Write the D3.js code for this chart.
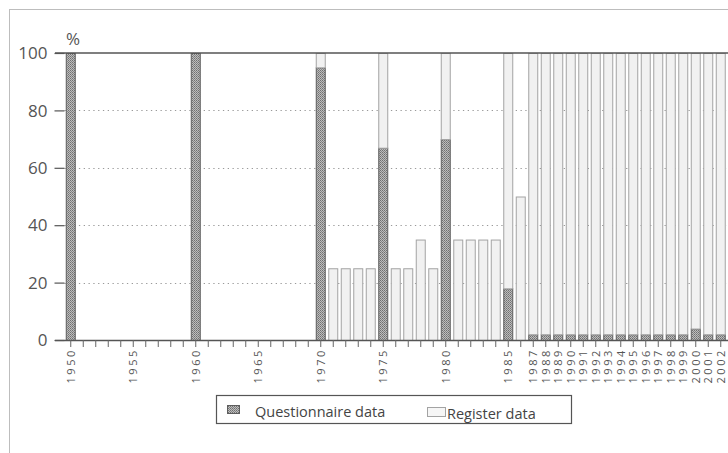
<!DOCTYPE html>
<html><head><meta charset="utf-8">
<script src="https://cdn.jsdelivr.net/npm/d3@7"></script>
<style>
html,body{margin:0;padding:0;background:#fff;}
svg{display:block;}
</style></head>
<body>
<svg id="chart" width="728" height="453"></svg>
<script>
// ---- data ----
const allYears = [1950,1951,1952,1953,1954,1955,1956,1957,1958,1959,1960,1961,1962,1963,1964,1965,1966,1967,1968,1969,1970,1971,1972,1973,1974,1975,1976,1977,1978,1979,1980,1981,1982,1983,1984,1985,1986,1987,1988,1989,1990,1991,1992,1993,1994,1995,1996,1997,1998,1999,2000,2001,2002];
const labelYears = [1950,1955,1960,1965,1970,1975,1980,1985,1987,1988,1989,1990,1991,1992,1993,1994,1995,1996,1997,1998,1999,2000,2001,2002];
const dataYears = [1950,1960,1970,1971,1972,1973,1974,1975,1976,1977,1978,1979,1980,1981,1982,1983,1984,1985,1986,1987,1988,1989,1990,1991,1992,1993,1994,1995,1996,1997,1998,1999,2000,2001,2002];
const questionnaire = [100,100,95,0,0,0,0,67,0,0,0,0,70,0,0,0,0,18,0,2,2,2,2,2,2,2,2,2,2,2,2,2,4,2,2];
const register = [0,0,5,25,25,25,25,33,25,25,35,25,30,35,35,35,35,82,50,98,98,98,98,98,98,98,98,98,98,98,98,98,96,98,98];
const yTicks = [0,20,40,60,80,100];
const seriesNames = ["Questionnaire data","Register data"];

// ---- layout ----
const svg = d3.select("#chart");
const pLeft = 64.5, pRight = 727, pTop = 53, pBottom = 340;
const x = d3.scaleBand().domain(allYears).range([pLeft, pRight]).paddingInner(0.2).paddingOuter(0.1);
const y = d3.scaleLinear().domain([0,100]).range([pBottom, pTop]);
const font = "'Open Sans', 'Noto Sans', sans-serif";
const textCol = "#555";

// pattern
const defs = svg.append("defs");
const pat = defs.append("pattern").attr("id","qpat").attr("patternUnits","userSpaceOnUse")
  .attr("width",2).attr("height",2);
pat.append("rect").attr("width",2).attr("height",2).attr("fill","#bdbdbd");
pat.append("rect").attr("width",1).attr("height",1).attr("fill","#707070");
pat.append("rect").attr("x",1).attr("y",1).attr("width",1).attr("height",1).attr("fill","#858585");

// outer frame
svg.append("rect").attr("x",9.5).attr("y",9.5).attr("width",740).attr("height",460)
  .attr("fill","none").attr("stroke","#bdbdbd").attr("stroke-width",1);

// gridlines
svg.append("g").selectAll("line").data(yTicks.filter(d => d>0 && d<100)).join("line")
  .attr("x1",pLeft).attr("x2",pRight).attr("y1",d=>Math.round(y(d))+0.5).attr("y2",d=>Math.round(y(d))+0.5)
  .attr("stroke","#9a9a9a").attr("stroke-width",1.2).attr("stroke-dasharray","1.3,3.5");

// bars
const rows = dataYears.map((yr,i)=>({year:yr, q:questionnaire[i], r:register[i]}));
const stack = d3.stack().keys(["q","r"])(rows);
const fills = ["url(#qpat)","#f1f1f1"];
const strokes = ["#5e5e5e","#a3a3a3"];
stack.forEach((layer,k)=>{
  svg.append("g").selectAll("rect").data(layer.filter(d=>d[1]-d[0]>0)).join("rect")
    .attr("x",d=>x(d.data.year)+0.5)
    .attr("y",d=>y(d[1])+0.5)
    .attr("width",x.bandwidth()-1)
    .attr("height",d=>y(d[0])-y(d[1]))
    .attr("fill",fills[k]).attr("stroke",strokes[k]).attr("stroke-width",1);
});

// top line
svg.append("line").attr("x1",55).attr("x2",728).attr("y1",y(100)).attr("y2",y(100))
  .attr("stroke","#555").attr("stroke-width",1.6);

// y axis
const yAxis = d3.axisLeft(y).tickValues(yTicks).tickSize(10).tickPadding(7);
const gy = svg.append("g").attr("transform",`translate(${pLeft},0)`).call(yAxis);
gy.select(".domain").remove();
gy.selectAll(".tick line").attr("stroke","#555").attr("stroke-width",1.2);
gy.selectAll(".tick text").attr("font-family",font).attr("font-size",17).attr("fill",textCol).attr("dy","0.34em");
svg.append("text").attr("x",73).attr("y",45).attr("text-anchor","middle")
  .attr("font-family",font).attr("font-size",17).attr("fill",textCol).text("%");

// x axis
const xAxis = d3.axisBottom(x).tickSize(7).tickFormat(d => labelYears.includes(d) ? d : "");
const gx = svg.append("g").attr("transform",`translate(0,${pBottom})`).call(xAxis);
gx.select(".domain").attr("d","M55,0.5H728").attr("stroke","#555").attr("stroke-width",1.6);
gx.selectAll(".tick line").attr("stroke","#666").attr("stroke-width",1);
gx.selectAll(".tick text")
  .attr("font-family",font).attr("font-size",11).attr("fill",textCol)
  .attr("letter-spacing","2.6px")
  .attr("text-anchor","end")
  .attr("transform","rotate(-90)")
  .attr("x",-8).attr("y",0).attr("dy","0.36em");

// legend
const lg = svg.append("g");
lg.append("rect").attr("x",216.5).attr("y",395.5).attr("width",355).attr("height",28)
  .attr("fill","#fff").attr("stroke","#555").attr("stroke-width",1.2);
lg.append("rect").attr("x",227.5).attr("y",405.5).attr("width",12).attr("height",8)
  .attr("fill","url(#qpat)").attr("stroke","#5e5e5e");
lg.append("text").attr("x",255).attr("y",417).attr("font-family",font).attr("font-size",14.5)
  .attr("fill","#444").text(seriesNames[0]);
lg.append("rect").attr("x",427.5).attr("y",407.5).attr("width",18).attr("height",9)
  .attr("fill","#f6f6f6").attr("stroke","#a3a3a3");
lg.append("text").attr("x",447).attr("y",419).attr("font-family",font).attr("font-size",14.5)
  .attr("fill","#444").text(seriesNames[1]);
</script>
</body></html>
